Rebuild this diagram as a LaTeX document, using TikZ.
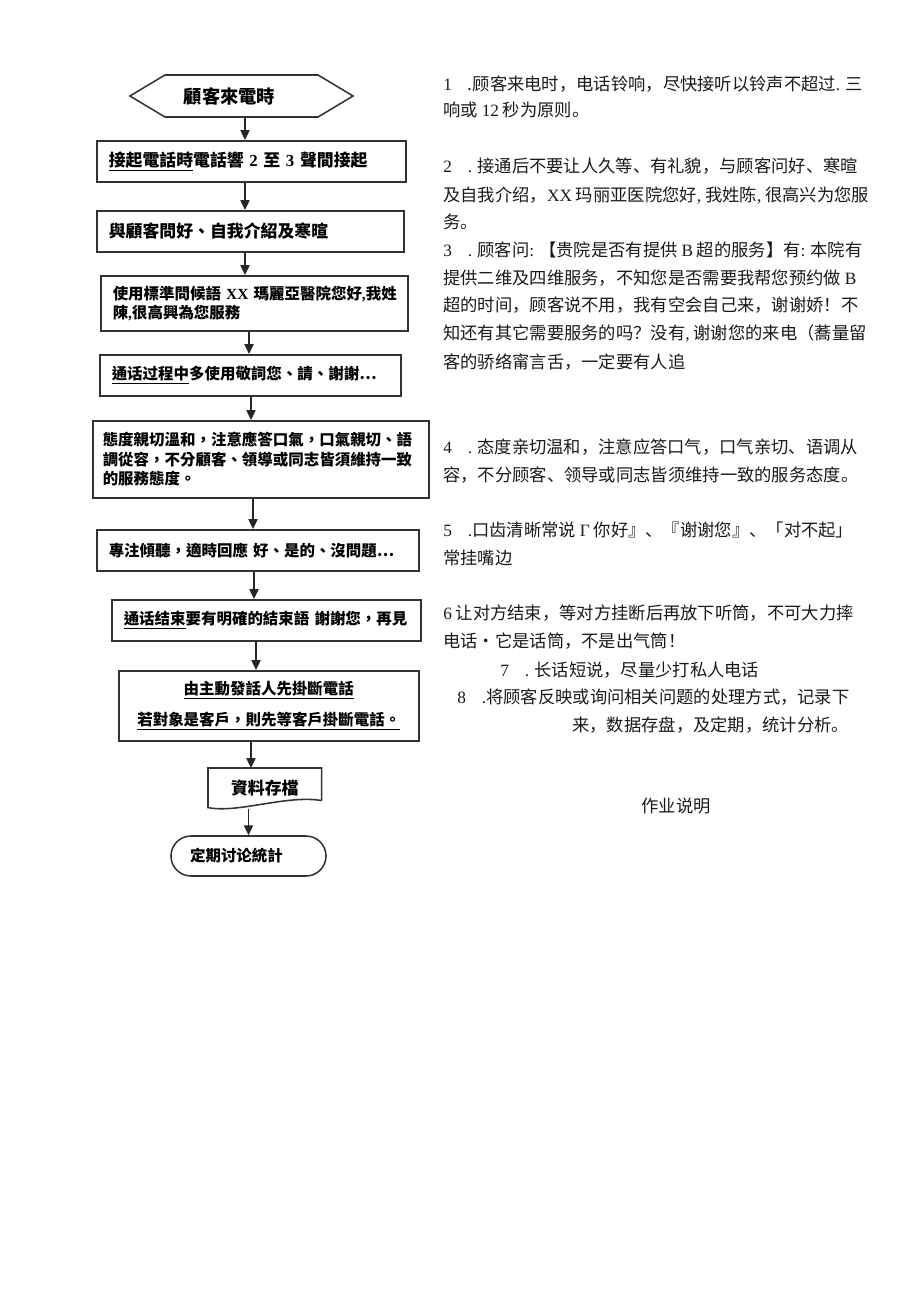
\documentclass[tikz,border=0pt]{standalone}
\usepackage{fontspec}
\setmainfont{Liberation Serif}
\newfontfamily\cjkt{Noto Sans CJK TC}
\newfontfamily\cjks{Noto Sans CJK SC}
\newfontfamily\lat{Liberation Serif}
\usepackage{tikz}
\usetikzlibrary{
  arrows.meta,   % 箭头样式
  calc,          % 坐标计算
  shapes.misc,   % 圆角矩形（结束框）
  shapes.symbols % signal 六边形（开始框）
}
\tikzset{
  flow box/.style={
    draw=black!80,
    line width=1.1pt,
    anchor=north west,
    inner xsep=0.3cm,
    inner ysep=0pt,
    align=left,
    font=\cjkt\bfseries\fontsize{11}{13.8}\selectfont
  },
  flow arrow/.style={
    -{Triangle[length=7pt,width=6.5pt]},
    line width=1pt,
    color=black!85
  },
  note line/.style={
    anchor=west,
    inner sep=0pt,
    color=black!90,
    font=\cjks\fontsize{12.3}{15}\selectfont
  }
}

\begin{document}
\begin{tikzpicture}[x=0.025cm, y=-0.025cm]
  % 画面范围（像素坐标）
  \useasboundingbox (0,0) rectangle (920,1301);

  % ==== 1. 左侧流程图 ====
  \node[draw=black!80, line width=1.1pt, signal, signal to=west and east,
        signal pointer angle=62, minimum width=5.575cm, minimum height=1.05cm,
        inner sep=0pt, font=\cjkt\bfseries\fontsize{13}{15}\selectfont]
        (start) at (241.5,96) {顧客來電時\kern0.6cm};

  \node[flow box, text width=7.125cm, minimum height=1.025cm,
        font=\cjkt\bfseries\fontsize{12}{15}\selectfont] (b2) at (96,140)
        {\underline{接起電話時}電話響~{\lat 2}~至~{\lat 3}~聲間接起};
  \node[flow box, text width=7.075cm, minimum height=1.025cm,
        font=\cjkt\bfseries\fontsize{12}{15}\selectfont] (b3) at (96,210)
        {與顧客問好、自我介紹及寒暄};
  \node[flow box, text width=7.075cm, minimum height=1.375cm] (b4) at (100,275)
        {使用標準問候語~{\lat XX}~瑪麗亞醫院您好{\lat ,}我姓\\陳{\lat ,}很高興為您服務};
  \node[flow box, text width=6.925cm, minimum height=1.025cm] (b5) at (99,354)
        {\underline{通话过程中}多使用敬詞您、請、謝謝…};
  \node[flow box, text width=7.9cm, inner xsep=0.25cm, minimum height=1.925cm] (b6) at (92,420)
        {態度親切溫和，注意應答口氣，口氣親切、語\\調從容，不分顧客、領導或同志皆須維持一致\\的服務態度。};
  \node[flow box, text width=7.45cm, minimum height=1.025cm] (b7) at (96,529)
        {專注傾聽，適時回應~好、是的、沒問題…};
  \node[flow box, text width=7.125cm, minimum height=1.025cm] (b8) at (111,599)
        {\underline{通话结束}要有明確的結束語~謝謝您，再見};
  \node[flow box, text width=6.9cm, minimum height=1.75cm, align=center,
        font=\cjkt\bfseries\fontsize{11}{22}\selectfont] (b9) at (118,670)
        {\underline{由主動發話人先掛斷電話}\\\underline{若對象是客戶，則先等客戶掛斷電話。}};

  % 文件框（下边为波浪线）
  \node[anchor=north west, minimum width=2.825cm, minimum height=0.975cm,
        inner xsep=0.3cm, inner ysep=0pt, align=left,
        font=\cjkt\bfseries\fontsize{12}{15}\selectfont] (doc) at (208,768) {資料存檔};
  \draw[draw=black!80, line width=1.1pt]
    ($(doc.south east)+(0,-7)$) -- (doc.north east) -- (doc.north west) -- (doc.south west)
    .. controls +(30,6) and +(-35,-6) .. ($(doc.south east)+(0,-7)$);

  % 结束框
  \node[draw=black!80, line width=1.1pt, rounded rectangle, minimum width=3.875cm,
        minimum height=1cm, inner sep=0pt,
        font=\cjkt\bfseries\fontsize{11}{13}\selectfont] (term) at (248.5,856) {定期讨论統計\kern0.6cm};

  % 流程箭头
  \draw[flow arrow] (start.south -| 245,0) -- (b2.north -| 245,0);
  \draw[flow arrow] (b2.south -| 245,0) -- (b3.north -| 245,0);
  \draw[flow arrow] (b3.south -| 245,0) -- (b4.north -| 245,0);
  \draw[flow arrow] (b4.south -| 249,0) -- (b5.north -| 249,0);
  \draw[flow arrow] (b5.south -| 251,0) -- (b6.north -| 251,0);
  \draw[flow arrow] (b6.south -| 253,0) -- (b7.north -| 253,0);
  \draw[flow arrow] (b7.south -| 254,0) -- (b8.north -| 254,0);
  \draw[flow arrow] (b8.south -| 256,0) -- (b9.north -| 256,0);
  \draw[flow arrow] (b9.south -| 251,0) -- (doc.north -| 251,0);
  \draw[flow arrow] ($(doc.south -| term.north)+(0,1)$) -- (term.north);

  % ==== 2. 右侧作业说明 ====
  \node[note line] (t1a) at (443,84) {{\lat 1}\hspace{0.4cm}.顾客来电时，电话铃响，尽快接听以铃声不超过{\lat .} 三};
  \node[note line] (t1b) at (443,110) {响或 {\lat 12} 秒为原则。};
  \node[note line] (t2a) at (443,166) {{\lat 2}\hspace{0.4cm}{\lat .} 接通后不要让人久等、有礼貌，与顾客问好、寒暄};
  \node[note line] (t2b) at (443,195) {及自我介绍，{\lat XX} 玛丽亚医院您好{\lat ,} 我姓陈{\lat ,} 很高兴为您服};
  \node[note line] (t2c) at (443,222) {务。};
  \node[note line] (t3a) at (443,250) {{\lat 3}\hspace{0.4cm}{\lat .} 顾客问{\lat :} 【贵院是否有提供 {\lat B} 超的服务】有{\lat :} 本院有};
  \node[note line] (t3b) at (443,278) {提供二维及四维服务，不知您是否需要我帮您预约做 {\lat B}};
  \node[note line] (t3c) at (443,305) {超的时间，顾客说不用，我有空会自己来，谢谢娇！不};
  \node[note line] (t3d) at (443,333) {知还有其它需要服务的吗？没有{\lat ,} 谢谢您的来电（蕎量留};
  \node[note line] (t3e) at (443,362) {客的骄络甯言舌，一定要有人追};
  \node[note line] (t4a) at (443,447) {{\lat 4}\hspace{0.4cm}{\lat .} 态度亲切温和，注意应答口气，口气亲切、语调从};
  \node[note line] (t4b) at (443,475) {容，不分顾客、领导或同志皆须维持一致的服务态度。};
  \node[note line] (t5a) at (443,530) {{\lat 5}\hspace{0.4cm}{\lat .}口齿清晰常说 {\lat Γ} 你好』、『谢谢您』、「对不起」};
  \node[note line] (t5b) at (443,558) {常挂嘴边};
  \node[note line] (t6a) at (443,613) {{\lat 6} 让对方结束，等对方挂断后再放下听筒，不可大力摔};
  \node[note line] (t6b) at (443,641) {电话・它是话筒，不是出气筒！};
  \node[note line] (t7) at (500,670) {{\lat 7}\hspace{0.4cm}{\lat .} 长话短说，尽量少打私人电话};
  \node[note line] (t8a) at (457,697) {{\lat 8}\hspace{0.4cm}{\lat .}将顾客反映或询问相关问题的处理方式，记录下};
  \node[note line] (t8b) at (572,725) {来，数据存盘，及定期，统计分析。};
  \node[note line, anchor=center] (t9) at (676,806) {作业说明};

\end{tikzpicture}
\end{document}
